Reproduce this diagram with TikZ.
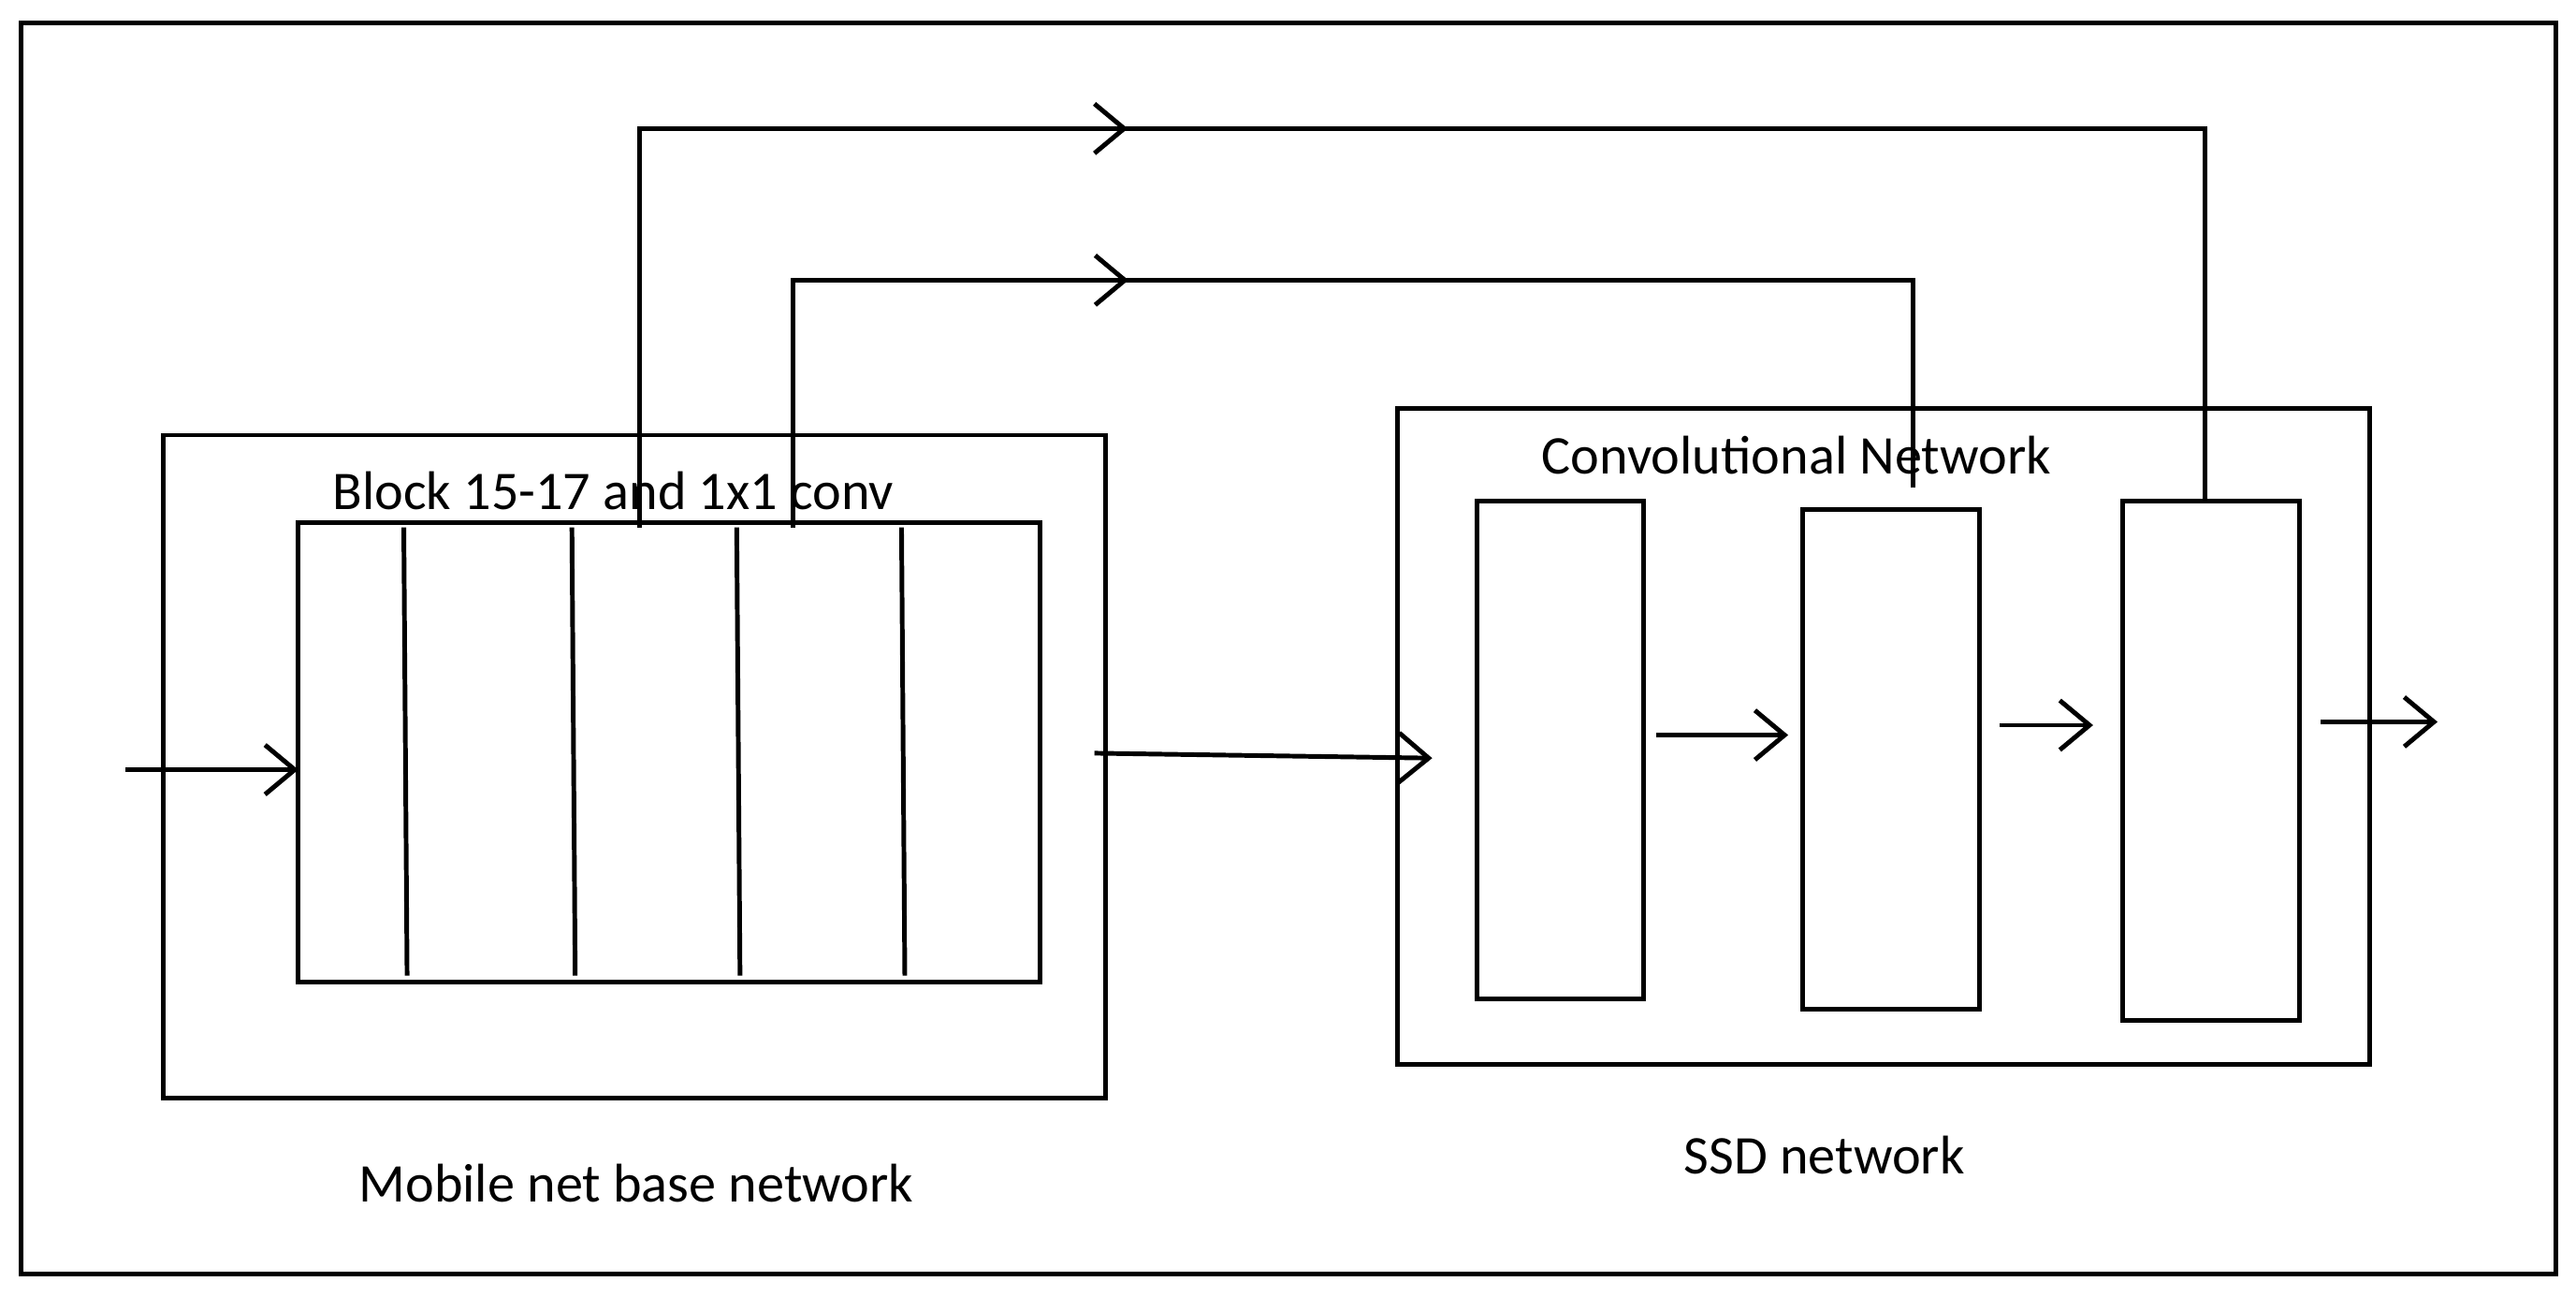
\documentclass[tikz,border=0pt]{standalone}
\usepackage{fontspec}
\setmainfont{Carlito}
\usetikzlibrary{positioning, decorations.markings, arrows.meta}

\begin{document}
\begin{tikzpicture}[x=0.01cm, y=-0.01cm, thick,
    >={Straight Barb[length=0.18cm, width=0.3cm]},
    box/.style={draw, thick, minimum width=0, inner sep=0},
    lbl/.style={font=\fontsize{9.4}{11}\selectfont, inner sep=0},
    midarrow/.style={decoration={markings, mark=at position #1 with {\arrow{>}}}, postaction={decorate}}]
    \useasboundingbox (0,0) rectangle (1563,786);
    \draw (13,14) rectangle (1551,773);
    % mobile net part
    \draw (99,264) rectangle (671,666);
    \draw (181,317) rectangle (631,596);
    \coordinate (blkW) at (181,467);
    \coordinate (blkE) at (664,457);
    \foreach \x in {245,347,447,547}
    {
    \draw (\x,320) -- (\x+2,592);
    }
    \node[lbl] (blklbl) at (372,298) {Block 15-17 and 1x1 conv};
    \node[lbl] (mblbl) at (386,718) {Mobile net base network};
    % ssd part
    \draw (848,248) rectangle (1438,646);
    \node[lbl] (convlbl) at (1090,276) {Convolutional Network};
    \node[lbl] (ssdlbl) at (1107,701) {SSD network};
    \coordinate (ssdW) at (869,460);
    \node[box, minimum width=1.01cm, minimum height=3.02cm] (c1) at (946.5,455) {};
    \node[box, minimum width=1.07cm, minimum height=3.03cm] (c2) at (1147.5,460.5) {};
    \node[box, minimum width=1.07cm, minimum height=3.15cm] (c3) at (1341.5,461.5) {};
    \coordinate (in) at (76,467);
    \coordinate (out) at (1479,438);
    % connectors
    \draw[->] (in) -- (blkW);
    \draw[->] (blkE) -- (ssdW);
    \draw[->] (1005,446) -- (1085,446);
    \draw[->] (1213,440) -- (1270,440);
    \draw[->] (1408,438) -- (out);
    \draw[midarrow=0.38] (388,320) -- (388,78) -- (1338,78) -- (c3.north -| 1338,0);
    \draw[midarrow=0.37] (481,320) -- (481,170) -- (1161,170) -- (1161,296);
\end{tikzpicture}
\end{document}
